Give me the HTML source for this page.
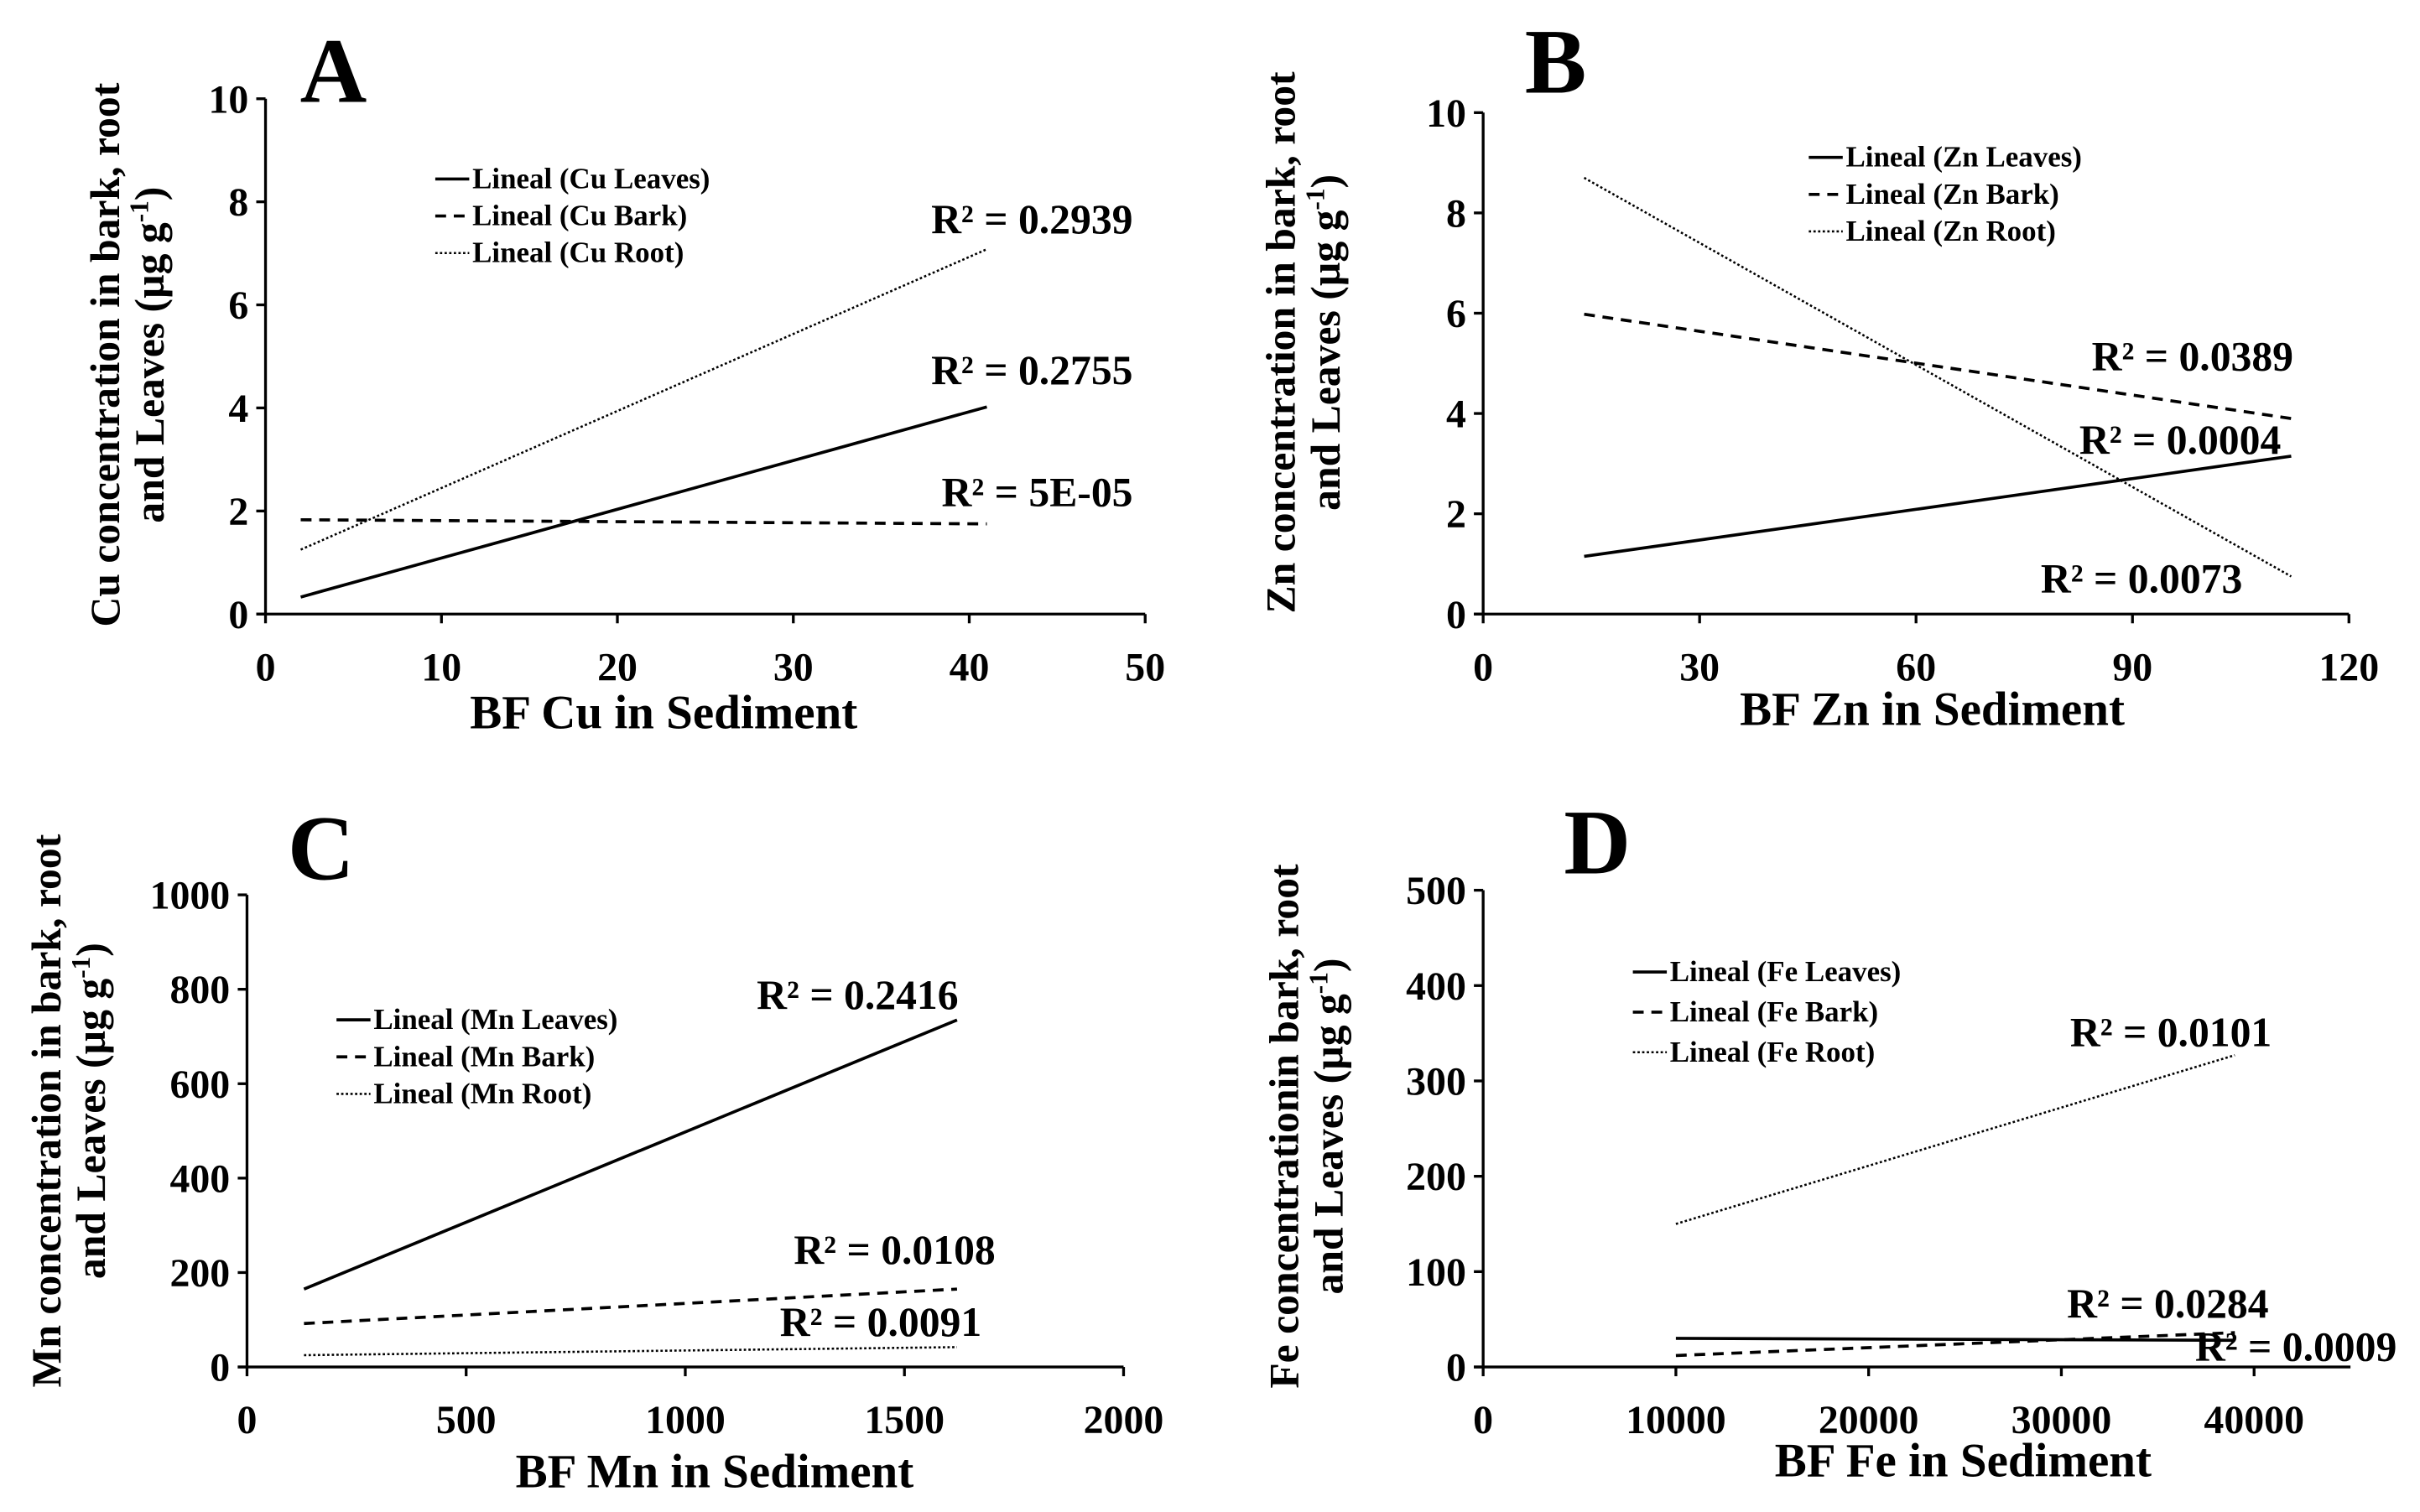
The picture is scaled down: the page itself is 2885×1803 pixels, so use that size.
<!DOCTYPE html>
<html><head><meta charset="utf-8"><style>
html,body{margin:0;padding:0;background:#fff;}
svg{display:block;}
text{font-family:"Liberation Serif",serif;font-weight:bold;fill:#000;}
</style></head><body>
<svg id="fig" width="2885" height="1803" viewBox="0 0 1568 980" xmlns="http://www.w3.org/2000/svg"></svg>
<script>
// Panel A (Cu)
const cuX = [2, 41];
const cuLeaves = [0.33, 4.02];
const cuBark = [1.83, 1.75];
const cuRoot = [1.25, 7.08];
const cuXTicks = [0, 10, 20, 30, 40, 50];
const cuYTicks = [0, 2, 4, 6, 8, 10];
const cuR2 = ["R² = 0.2939", "R² = 0.2755", "R² = 5E-05"];
// Panel B (Zn)
const znX = [14, 112];
const znLeaves = [1.15, 3.15];
const znBark = [5.98, 3.9];
const znRoot = [8.7, 0.75];
const znXTicks = [0, 30, 60, 90, 120];
const znYTicks = [0, 2, 4, 6, 8, 10];
const znR2 = ["R² = 0.0389", "R² = 0.0004", "R² = 0.0073"];
// Panel C (Mn)
const mnX = [130, 1620];
const mnLeaves = [165, 735];
const mnBark = [92, 165];
const mnRoot = [25, 42];
const mnXTicks = [0, 500, 1000, 1500, 2000];
const mnYTicks = [0, 200, 400, 600, 800, 1000];
const mnR2 = ["R² = 0.2416", "R² = 0.0108", "R² = 0.0091"];
// Panel D (Fe)
const feX = [10000, 39000];
const feLeaves = [30, 28];
const feBark = [12, 36];
const feRoot = [150, 327];
const feXTicks = [0, 10000, 20000, 30000, 40000];
const feYTicks = [0, 100, 200, 300, 400, 500];
const feR2 = ["R² = 0.0101", "R² = 0.0284", "R² = 0.0009"];

const NS = "http://www.w3.org/2000/svg";
const svg = document.getElementById("fig");
function mk(tag, attrs, parent){
  const e = document.createElementNS(NS, tag);
  for (const k in attrs) e.setAttribute(k, attrs[k]);
  (parent||svg).appendChild(e);
  return e;
}
const dashes = {solid:"", dash:"7,5", dot:"1.5,1.5"};

function panel(cfg){
  const g = mk("g", {});
  
  
  const xs = v => cfg.px0 + (v - cfg.xmin) / (cfg.xmax - cfg.xmin) * (cfg.px1 - cfg.px0);
  const ys = v => cfg.py0 - (v - cfg.ymin) / (cfg.ymax - cfg.ymin) * (cfg.py0 - cfg.py1);
  const ya = mk("line", {x1:cfg.px0, y1:cfg.py0, x2:cfg.px0, y2:cfg.py1, stroke:"#000", "stroke-width":1.8}, g);
  
  
  const xa = mk("line", {x1:cfg.px0-6, y1:cfg.py0, x2:cfg.px1, y2:cfg.py0, stroke:"#000", "stroke-width":1.8}, g);
  
  
  cfg.yt.forEach(v => {
    const y = ys(v);
    mk("line", {x1:cfg.px0-6, y1:y, x2:cfg.px0, y2:y, stroke:"#000", "stroke-width":1.8}, g);
    const t = mk("text", {x:cfg.px0-11, y:y+9, "text-anchor":"end", "font-size":26}, g);
    t.textContent = v;
    
    
  });
  cfg.xt.forEach(v => {
    const x = xs(v);
    mk("line", {x1:x, y1:cfg.py0, x2:x, y2:cfg.py0+6, stroke:"#000", "stroke-width":1.8}, g);
    const t = mk("text", {x:x, y:cfg.py0+43, "text-anchor":"middle", "font-size":26}, g);
    t.textContent = v;
    
    
  });
  const series = [[cfg.leaves,"solid","leaves"],[cfg.bark,"dash","bark"],[cfg.root,"dot","root"]];
  series.forEach(s => {
    const l = mk("line", {x1:xs(cfg.x[0]), y1:ys(s[0][0]), x2:xs(cfg.x[1]), y2:ys(s[0][1]), stroke:"#000", "stroke-width": s[1]==="dot"?1.4:2, "stroke-dasharray":dashes[s[1]]}, g);
    
    
  });
  const names = ["Leaves","Bark","Root"];
  names.forEach((n,i) => {
    const y = cfg.legY + i*cfg.legGap;
    mk("line", {x1:cfg.legX, y1:y-6, x2:cfg.legX+22, y2:y-6, stroke:"#000", "stroke-width": i===2?1.4:2, "stroke-dasharray":dashes[series[i][1]]}, g);
    const t = mk("text", {x:cfg.legX+24, y:y, "font-size":19}, g);
    t.textContent = "Lineal (" + cfg.el + " " + n + ")";
    
    
  });
  cfg.r2.forEach((s,i) => {
    const p = cfg.r2pos[i];
    const t = mk("text", {x:p[0], y:p[1], "text-anchor":"end", "font-size":27}, g);
    t.textContent = s;
    
    
  });
  const L = mk("text", {x:cfg.letPos[0], y:cfg.letPos[1], "text-anchor":"middle", "font-size":60}, g);
  L.textContent = cfg.letter;
  
  
  const xt = mk("text", {x:cfg.xtPos[0], y:cfg.xtPos[1], "text-anchor":"middle", "font-size":31}, g);
  xt.textContent = "BF " + cfg.el + " in Sediment";
  
  
  const yt = mk("text", {transform:"translate("+cfg.ytPos[0]+","+cfg.ytPos[1]+") rotate(-90)", "text-anchor":"middle", "font-size":27}, g);
  
  
  const t1 = mk("tspan", {x:0, y:0}, yt); t1.textContent = cfg.ytitle;
  const t2 = mk("tspan", {x:0, y:29}, yt); t2.textContent = "and Leaves (µg g";
  const t3 = mk("tspan", {dy:-10, "font-size":17}, yt); t3.textContent = "-1";
  const t4 = mk("tspan", {dy:10}, yt); t4.textContent = ")";
}

panel({letter:"A", el:"Cu", x:cuX, leaves:cuLeaves, bark:cuBark, root:cuRoot, xt:cuXTicks, yt:cuYTicks, r2:cuR2,
  xmin:0,xmax:50,ymin:0,ymax:10, px0:172,px1:742,py0:398,py1:64,
  legX:282, legY:122, legGap:24, r2pos:[[734,151],[734,249],[734,328]], letPos:[216,66], xtPos:[430,472], ytPos:[77,230],
  ytitle:"Cu concentration in bark, root"});
panel({letter:"B", el:"Zn", x:znX, leaves:znLeaves, bark:znBark, root:znRoot, xt:znXTicks, yt:znYTicks, r2:znR2,
  xmin:0,xmax:120,ymin:0,ymax:10, px0:961,px1:1522,py0:398,py1:73,
  legX:1172, legY:108, legGap:24, r2pos:[[1486,240],[1478,294],[1453,384]], letPos:[1008,60], xtPos:[1252,470], ytPos:[839,222],
  ytitle:"Zn concentration in bark, root"});
panel({letter:"C", el:"Mn", x:mnX, leaves:mnLeaves, bark:mnBark, root:mnRoot, xt:mnXTicks, yt:mnYTicks, r2:mnR2,
  xmin:0,xmax:2000,ymin:0,ymax:1000, px0:160,px1:728,py0:886,py1:580,
  legX:218, legY:667, legGap:24, r2pos:[[621,654],[645,819],[636,866]], letPos:[208,570], xtPos:[463,964], ytPos:[39,720],
  ytitle:"Mn concentration in bark, root"});
panel({letter:"D", el:"Fe", x:feX, leaves:feLeaves, bark:feBark, root:feRoot, xt:feXTicks, yt:feYTicks, r2:feR2,
  xmin:0,xmax:45000,ymin:0,ymax:500, px0:961,px1:1523,py0:886,py1:577,
  legX:1058, legY:636, legGap:26, r2pos:[[1472,678],[1470,854],[1553,882]], letPos:[1035,566], xtPos:[1272,957], ytPos:[841,730],
  ytitle:"Fe concentrationin bark, root"});
</script>
</body></html>
